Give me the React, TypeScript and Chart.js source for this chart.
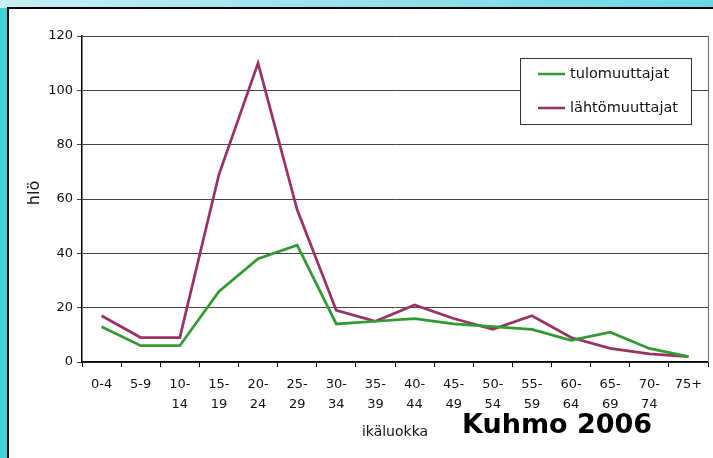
import React, { useEffect, useRef } from "react";
import { Chart, registerables } from "chart.js";

Chart.register(...registerables);

const categories: (string | string[])[] = [
  "0-4", "5-9", ["10-", "14"], ["15-", "19"], ["20-", "24"], ["25-", "29"],
  ["30-", "34"], ["35-", "39"], ["40-", "44"], ["45-", "49"], ["50-", "54"],
  ["55-", "59"], ["60-", "64"], ["65-", "69"], ["70-", "74"], "75+",
];
const tuloValues = [13, 6, 6, 26, 38, 43, 14, 15, 16, 14, 13, 12, 8, 11, 5, 2];
const lahtoValues = [17, 9, 9, 69, 110, 56, 19, 15, 21, 16, 12, 17, 9, 5, 3, 2];
const seriesNames = ["tulomuuttajat", "lähtömuuttajat"];
const seriesColors = ["#339933", "#993366"];
const yTitle = "hlö";
const xTitle = "ikäluokka";
const stamp = "Kuhmo 2006";

const FONT = "'DejaVu Sans', Verdana, sans-serif";

const overlayPlugin = {
  id: "overlay",
  afterDraw(chart: any) {
    const { ctx, chartArea } = chart;
    const { left, right, top, bottom } = chartArea;
    ctx.save();
    // right border of plot
    ctx.strokeStyle = "#666";
    ctx.lineWidth = 1;
    ctx.beginPath();
    ctx.moveTo(Math.round(right) + 0.5, top);
    ctx.lineTo(Math.round(right) + 0.5, bottom);
    ctx.stroke();

    // legend box
    const bx = left + 438, by = top + 22, bw = 171, bh = 66;
    ctx.fillStyle = "#fff";
    ctx.fillRect(bx, by, bw, bh);
    ctx.strokeStyle = "#333";
    ctx.lineWidth = 1;
    ctx.strokeRect(bx + 0.5, by + 0.5, bw, bh);
    ctx.font = `14.5px ${FONT}`;
    ctx.textBaseline = "middle";
    ctx.textAlign = "left";
    chart.data.datasets.forEach((ds: any, i: number) => {
      const ly = by + 16 + i * 34;
      ctx.strokeStyle = ds.borderColor;
      ctx.lineWidth = 2.5;
      ctx.beginPath();
      ctx.moveTo(bx + 18, ly);
      ctx.lineTo(bx + 45, ly);
      ctx.stroke();
      ctx.fillStyle = "#111";
      ctx.fillText(ds.label, bx + 50, ly);
    });

    // y title
    ctx.save();
    ctx.translate(26, (top + bottom) / 2 - 6);
    ctx.rotate(-Math.PI / 2);
    ctx.textAlign = "center";
    ctx.textBaseline = "middle";
    ctx.font = `16px ${FONT}`;
    ctx.fillStyle = "#111";
    ctx.fillText(yTitle, 0, 0);
    ctx.restore();

    // x title
    ctx.textAlign = "center";
    ctx.textBaseline = "middle";
    ctx.font = `14px ${FONT}`;
    ctx.fillStyle = "#111";
    ctx.fillText(xTitle, (left + right) / 2, bottom + 70);

    // stamp
    ctx.textAlign = "left";
    ctx.textBaseline = "alphabetic";
    ctx.font = `bold 27px ${FONT}`;
    ctx.fillStyle = "#000";
    ctx.fillText(stamp, left + 380, bottom + 71);
    ctx.restore();
  },
};

export default function App() {
  const ref = useRef<HTMLCanvasElement>(null);
  useEffect(() => {
    document.body.style.margin = "0";
    const chart = new Chart(ref.current!, {
      type: "line",
      data: {
        labels: categories,
        datasets: [
          {
            label: seriesNames[0],
            data: tuloValues,
            borderColor: seriesColors[0],
            backgroundColor: seriesColors[0],
            borderWidth: 2.75,
            pointRadius: 0,
            tension: 0,
          },
          {
            label: seriesNames[1],
            data: lahtoValues,
            borderColor: seriesColors[1],
            backgroundColor: seriesColors[1],
            borderWidth: 2.75,
            pointRadius: 0,
            tension: 0,
          },
        ],
      },
      options: {
        animation: false,
        responsive: false,
        maintainAspectRatio: false,
        layout: { padding: { left: 0, top: 27, right: 5, bottom: 0 } },
        plugins: { legend: { display: false }, tooltip: { enabled: false } },
        scales: {
          x: {
            offset: true,
            grid: {
              offset: true,
              drawOnChartArea: false,
              drawTicks: true,
              tickLength: 5,
              color: "#000",
            },
            border: { color: "#000", width: 1.5 },
            ticks: {
              color: "#111",
              font: { family: FONT, size: 13, lineHeight: "20px" } as any,
              padding: 8,
              maxRotation: 0,
              autoSkip: false,
            },
            afterFit(scale: any) {
              scale.height = 96;
            },
          },
          y: {
            min: 0,
            max: 120,
            ticks: {
              stepSize: 20,
              color: "#111",
              font: { family: FONT, size: 13 },
              padding: 4,
            },
            grid: { color: "#444", lineWidth: 1, tickLength: 5 },
            border: { color: "#000", width: 1.5 },
            afterFit(scale: any) {
              scale.width = 73;
            },
          },
        },
      },
      plugins: [overlayPlugin],
    });
    return () => chart.destroy();
  }, []);

  return (
    <div style={{ position: "relative", width: 713, height: 458, background: "#42cfdc", overflow: "hidden" }}>
      <div style={{ position: "absolute", left: 0, top: 0, width: 713, height: 8, background: "linear-gradient(to right, #c6eff5, #9fe3ee 40%, #6ad6e4)" }} />
      <div style={{ position: "absolute", left: 7, top: 7, width: 706, height: 451, boxSizing: "border-box", borderLeft: "2px solid #000", borderTop: "2px solid #000", background: "#fff" }} />
      <canvas ref={ref} width={704} height={449} style={{ position: "absolute", left: 9, top: 9, width: 704, height: 449 }} />
    </div>
  );
}
